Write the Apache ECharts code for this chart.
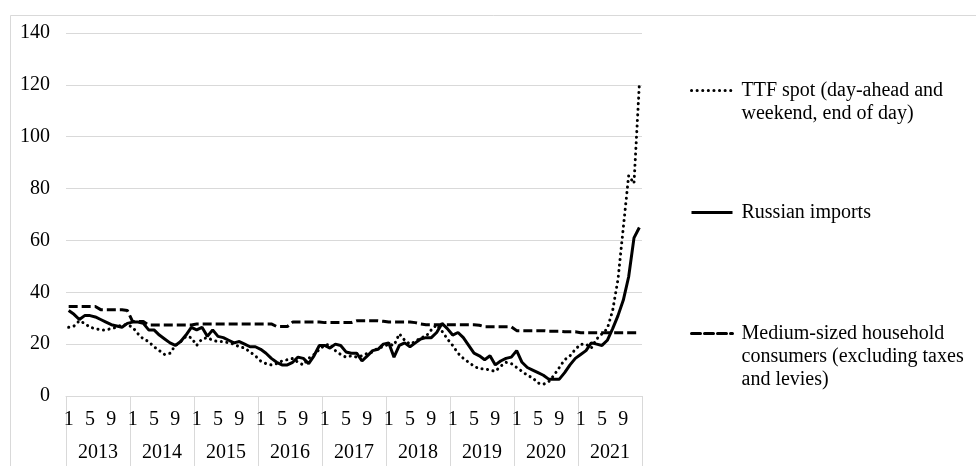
<!DOCTYPE html>
<html>
<head>
<meta charset="utf-8">
<script src="https://cdn.jsdelivr.net/npm/echarts@6/dist/echarts.min.js"></script>
<style>html,body{margin:0;padding:0;background:#fff}#c{width:976px;height:466px}</style>
</head>
<body>
<div id="c"></div>
<script>
var years = ['2013','2014','2015','2016','2017','2018','2019','2020','2021'];
var monthTickLabels = ['1','5','9'];

var ttfSpot = [
  26.5,27,29,28,26.5,26,25.5,25.5,26,26.5,27.5,27.5,
  26.5,24,22,21,19,17.5,16,16.5,19.5,21,23,22.5,
  19.5,22,22.5,21.5,21,21,20.5,20,19,18.5,17,15.5,
  13.5,12.5,12,12.5,13.5,14,14.5,13,12,14.5,16,18,
  19.5,20,17.5,16,15,15.5,15,15.5,16.5,17,18.5,19,
  20,19.5,24,21.5,20,21,22.5,23,25.5,27.5,25,22,
  19.5,16.5,14.5,13,11.5,10.5,10.5,10,9.5,11.5,13,12.5,
  11,9.5,8,7,5,4.5,5.5,8,11,14,15.5,18,
  20,20,18.5,22,24,26,33,45,65,85,82,120
];
var russianImports = [
  33,31.5,29.5,31,31,30.5,29.5,28.5,27.5,27,26.5,28,
  28.5,28.5,28,25.5,25.5,23.5,22,20.5,19.5,21,23.5,26.5,
  25.5,26.5,23,25.5,23,22.5,21.5,20.5,21,20,19,19,
  18,16.5,14.5,13,12,12,13,15,14.5,12.5,15.5,19.5,
  19.5,18.5,20,19.5,17,16.5,16.5,13.5,15.5,17.5,18,20,
  20.5,15,19.5,20.5,19,20.5,22,22.5,22.5,24.5,28,26,
  23.5,24.5,22.5,19.5,16.5,15.5,14,15.5,12,13.5,14.5,15,
  17.5,13,11,10,9,8,6.5,6.5,6.5,9,12,14.5,
  16,17.5,20.5,20,19.5,21.5,26,31,37,46,61,65
];
var householdConsumers = [
  34.5,34.5,34.5,34.5,34.5,34.5,33.3,33.3,33.3,33.3,33.3,33,
  28.7,28.7,28.7,27.4,27.4,27.4,27.4,27.4,27.4,27.4,27.4,27.4,
  27.8,27.8,27.8,27.8,27.8,27.8,27.8,27.8,27.8,27.8,27.8,27.8,
  27.8,27.8,27.8,26.8,26.8,26.8,28.5,28.5,28.5,28.5,28.5,28.5,
  28.3,28.3,28.3,28.3,28.3,28.3,29,29,29,29,29,28.8,
  28.5,28.5,28.5,28.5,28.5,28.3,27.8,27.5,27.5,27.5,27.5,27.5,
  27.5,27.5,27.5,27.5,27.5,27.3,26.7,26.7,26.7,26.7,26.7,26.7,
  25.2,25.2,25.2,25.2,25.2,25.2,25,25,25,24.8,24.8,24.8,
  24.4,24.4,24.4,24.4,24.4,24.4,24.4,24.4,24.4,24.4,24.4,24.4
];

var months = [];
years.forEach(function (y) { for (var m = 1; m <= 12; m++) months.push(y + '-' + m); });

var FONT = 'Liberation Serif';
var FS = 20;
var LH = 23;
var chart = echarts.init(document.getElementById('c'), null, {renderer: 'canvas'});
function legendAt(top, name, dash) {
  return {
    orient: 'vertical', left: 690, top: top,
    itemWidth: 41, itemHeight: 14, itemGap: 0, padding: 0,
    textStyle: {fontFamily: FONT, fontSize: FS, color: '#000', lineHeight: LH, padding: [0, 0, 0, 4]},
    data: [{name: name, itemStyle: {opacity: 0}, lineStyle: {width: 3, color: '#000', type: dash, cap: dash === 'solid' ? 'butt' : 'round'}}]
  };
}
var nTTF = '\nTTF spot (day-ahead and\nweekend, end of day)';
var nRU = 'Russian imports';
var nHH = '\n\nMedium-sized household\nconsumers (excluding taxes\nand levies)';
var dotType = [0.1, 5.5];
var dashType = [9, 4];
chart.setOption({
  animation: false,
  backgroundColor: '#fff',
  graphic: [{type: 'rect', left: 8, top: 13, shape: {width: 1000, height: 500}, style: {fill: 'none', stroke: '#d9d9d9', lineWidth: 1}, silent: true}],
  legend: [legendAt(56, nTTF, dotType), legendAt(201, nRU, 'solid'), legendAt(276, nHH, dashType)],
  grid: {left: 66, right: 334, top: 33, bottom: 70, containLabel: false},
  xAxis: [{
    type: 'category', data: months, boundaryGap: true, position: 'bottom', offset: 0,
    axisLine: {show: true, lineStyle: {color: '#d9d9d9', width: 1}},
    axisTick: {show: false},
    axisLabel: {
      interval: 0, margin: 14, fontFamily: FONT, fontSize: FS, color: '#000',
      formatter: function (v) { var m = v.split('-')[1]; return monthTickLabels.indexOf(m) >= 0 ? m : ''; }
    },
    splitLine: {show: false}
  }, {
    type: 'category', data: years, boundaryGap: true, position: 'bottom', offset: 0,
    axisLine: {show: false},
    axisTick: {show: true, interval: 0, length: 80, lineStyle: {color: '#d9d9d9', width: 1}},
    axisLabel: {interval: 0, margin: 47, fontFamily: FONT, fontSize: FS, color: '#000'},
    splitLine: {show: false}
  }],
  yAxis: {
    type: 'value', min: 0, max: 140, interval: 20,
    axisLine: {show: false}, axisTick: {show: false},
    axisLabel: {margin: 16, fontFamily: FONT, fontSize: FS, color: '#000'},
    splitLine: {lineStyle: {color: '#d9d9d9', width: 1}}
  },
  series: [{
    name: nTTF, type: 'line', data: ttfSpot, xAxisIndex: 0,
    symbol: 'none', color: '#000',
    lineStyle: {color: '#000', width: 3, type: dotType, cap: 'round'}
  }, {
    name: nRU, type: 'line', data: russianImports, xAxisIndex: 0,
    symbol: 'none', color: '#000',
    lineStyle: {color: '#000', width: 3, type: 'solid'}
  }, {
    name: nHH, type: 'line', data: householdConsumers, xAxisIndex: 0,
    symbol: 'none', color: '#000',
    lineStyle: {color: '#000', width: 3, type: dashType}
  }]
});
</script>
</body>
</html>
